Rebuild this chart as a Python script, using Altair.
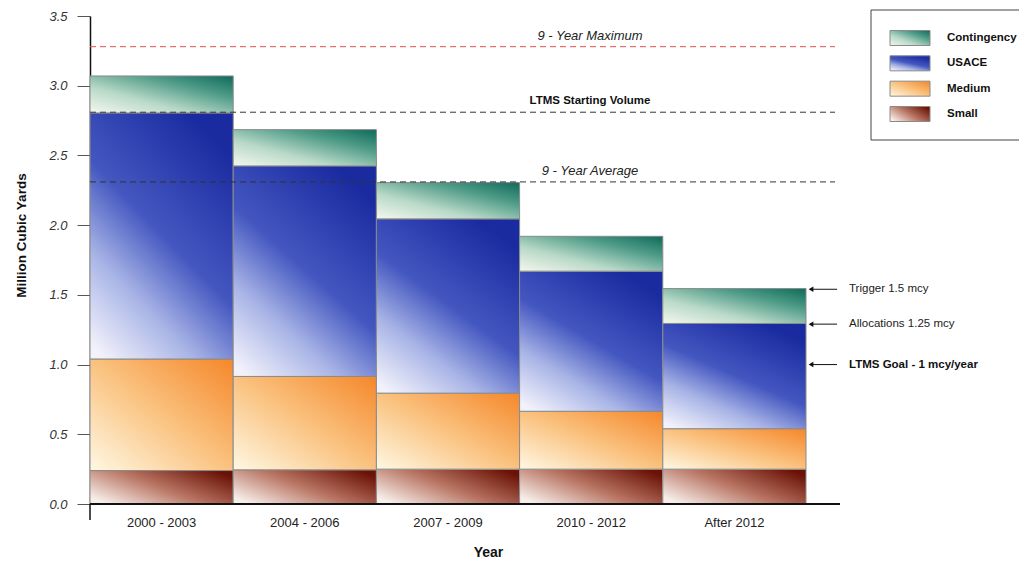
import altair as alt
import pandas as pd

# ---------------- data ----------------
periods = ["2000 - 2003", "2004 - 2006", "2007 - 2009", "2010 - 2012", "After 2012"]
small = [0.24, 0.245, 0.25, 0.25, 0.25]
medium = [0.80, 0.67, 0.545, 0.415, 0.29]
usace = [1.765, 1.51, 1.25, 1.005, 0.755]
contingency = [0.265, 0.26, 0.26, 0.25, 0.25]

stack_order = ["Small", "Medium", "USACE", "Contingency"]
legend_order = ["Contingency", "USACE", "Medium", "Small"]

ref_values = [3.28, 2.81, 2.31]
ref_labels = ["9 - Year Maximum", "LTMS Starting Volume", "9 - Year Average"]

note_values = [1.54, 1.29, 1.0]
note_labels = ["Trigger 1.5 mcy", "Allocations 1.25 mcy", "LTMS Goal - 1 mcy/year"]

y_ticks = [0.0, 0.5, 1.0, 1.5, 2.0, 2.5, 3.0, 3.5]

# ---------------- tables ----------------
series_vals = {"Small": small, "Medium": medium, "USACE": usace, "Contingency": contingency}
rows = []
for i, p in enumerate(periods):
    base = 0.0
    for s in stack_order:
        v = series_vals[s][i]
        rows.append({"period": p, "series": s, "lo": base, "hi": base + v})
        base += v
df = pd.DataFrame(rows)
ref_df = pd.DataFrame({"value": ref_values, "label": ref_labels})
note_df = pd.DataFrame({"value": note_values, "label": note_labels})
leg_df = pd.DataFrame({"series": legend_order})
zero_df = pd.DataFrame({"v": [0.0]})

FONT = "Liberation Sans"
W, H = 929, 488


def grad(stops, x1=0, y1=1, x2=1, y2=0):
    return {"gradient": "linear", "x1": x1, "y1": y1, "x2": x2, "y2": y2,
            "stops": [{"offset": o, "color": c} for o, c in stops]}


fills = {
    "Contingency": grad([(0, "#f4f8ee"), (0.35, "#b9d9c8"), (0.7, "#4f9c88"), (1, "#0e6a5a")]),
    "USACE": grad([(0, "#f2f2fb"), (0.28, "#a8b4e6"), (0.55, "#4457c0"), (1, "#1a2ba0")],
                  x1=0.1, y1=1, x2=0.7, y2=0),
    "Medium": grad([(0, "#fef8e4"), (0.5, "#fac27f"), (1, "#f5872a")]),
    "Small": grad([(0, "#f7eeea"), (0.5, "#b87462"), (1, "#6a1206")],
                  x1=0, y1=0.8, x2=1, y2=0.2),
}

yaxis = alt.Axis(values=y_ticks, format=".1f", title="Million Cubic Yards",
                 titleFont=FONT, titleFontSize=13.5, titleFontWeight="bold", titleColor="#111",
                 titlePadding=20, titleY=219,
                 labelFont=FONT, labelFontSize=13, labelFontStyle="italic",
                 labelColor="#333", labelPadding=10, tickSize=13, tickColor="#555",
                 tickWidth=1, domainColor="#111", domainWidth=1.5, grid=False)
yscale = alt.Scale(domain=[0, 3.5], nice=False, zero=True)


def Y(field):
    return alt.Y(field, type="quantitative", scale=yscale, axis=yaxis)


xscale = alt.Scale(domain=periods, paddingInner=0, paddingOuter=0.7437, align=0)
xaxis = alt.Axis(title="Year", titleFont=FONT, titleFontSize=14, titleFontWeight="bold",
                 titleColor="#111", titlePadding=16, titleX=398,
                 labelFont=FONT, labelFontSize=13, labelColor="#222", labelPadding=12,
                 labelAngle=0, ticks=False, domain=False)


def bar_layer(name):
    return (alt.Chart(df).transform_filter(alt.datum.series == name)
            .mark_rect(fill=fills[name], stroke="#8a8a8a", strokeWidth=1)
            .encode(x=alt.X("period:N", scale=xscale, axis=xaxis, sort=periods),
                    y=Y("lo"), y2=alt.Y2("hi")))


bars = [bar_layer(s) for s in stack_order]

baseline = (alt.Chart(zero_df).mark_rule(color="#111", strokeWidth=2)
            .encode(y=Y("v"), x=alt.value(0), x2=alt.value(750)))
yext = (alt.Chart(zero_df).mark_rule(color="#111", strokeWidth=1.5)
        .encode(x=alt.value(0), y=alt.value(H), y2=alt.value(H + 16)))

ref_lines = (alt.Chart(ref_df).mark_rule(strokeWidth=1, strokeDash=[6, 4])
             .encode(y=Y("value"), x=alt.value(0), x2=alt.value(745),
                     color=alt.Color("label:N", scale=alt.Scale(domain=ref_labels,
                                     range=["#e0524a", "#333333", "#333333"]), legend=None)))
ref_text_it = (alt.Chart(ref_df)
               .transform_filter(alt.datum.label != "LTMS Starting Volume")
               .mark_text(font=FONT, fontSize=13, fontStyle="italic", color="#222",
                          align="center", baseline="middle", dy=-11)
               .encode(x=alt.value(500), y=Y("value"), text="label:N"))
ref_text_b = (alt.Chart(ref_df)
              .transform_filter(alt.datum.label == "LTMS Starting Volume")
              .mark_text(font=FONT, fontSize=11.5, fontWeight="bold", color="#111",
                         align="center", baseline="middle", dy=-11)
              .encode(x=alt.value(500), y=Y("value"), text="label:N"))

arrows = (alt.Chart(note_df).mark_rule(color="#111", strokeWidth=1)
          .encode(y=Y("value"), x=alt.value(720), x2=alt.value(747)))
heads = (alt.Chart(note_df).mark_point(shape="triangle-left", filled=True, size=30,
                                       color="#111", opacity=1)
         .encode(y=Y("value"), x=alt.value(721)))
note_text = (alt.Chart(note_df)
             .transform_filter(alt.datum.label != "LTMS Goal - 1 mcy/year")
             .mark_text(font=FONT, fontSize=11.5, color="#222", align="left", baseline="middle")
             .encode(x=alt.value(759), y=Y("value"), text="label:N"))
note_text_b = (alt.Chart(note_df)
               .transform_filter(alt.datum.label == "LTMS Goal - 1 mcy/year")
               .mark_text(font=FONT, fontSize=11.5, fontWeight="bold", color="#111",
                          align="left", baseline="middle")
               .encode(x=alt.value(759), y=Y("value"), text="label:N"))

main = alt.layer(*bars, baseline, yext, ref_lines, ref_text_it, ref_text_b,
                 arrows, heads, note_text, note_text_b)

# ---------------- legend ----------------
leg_y = alt.Y("series:N", scale=alt.Scale(domain=legend_order, range=[14.5, 105.5],
                                          paddingInner=0.408, paddingOuter=0), axis=None)
box = (alt.Chart(leg_df.head(1)).mark_rect(fill="white", stroke="#444", strokeWidth=1)
       .encode(x=alt.value(781), x2=alt.value(950), y=alt.value(-6), y2=alt.value(124)))
leg_rects = [
    (alt.Chart(leg_df).transform_filter(alt.datum.series == s)
     .mark_rect(fill=fills[s], stroke="#8a8a8a", strokeWidth=1)
     .encode(x=alt.value(800), x2=alt.value(840), y=leg_y))
    for s in legend_order
]
leg_text = (alt.Chart(leg_df).mark_text(font=FONT, fontSize=11.5, fontWeight="bold",
                                        color="#111", align="left", baseline="middle")
            .encode(x=alt.value(857), y=leg_y, text="series:N"))
legend = alt.layer(box, *leg_rects, leg_text)

chart = (alt.layer(main, legend)
         .resolve_scale(y="independent")
         .properties(width=W, height=H,
                     padding={"left": 82, "top": 8, "right": 0, "bottom": 57},
                     autosize=alt.AutoSizeParams(type="none"),
                     background="white")
         .configure_view(stroke=None))

chart.save("out.html", embed_options={"renderer": "svg", "actions": False})
